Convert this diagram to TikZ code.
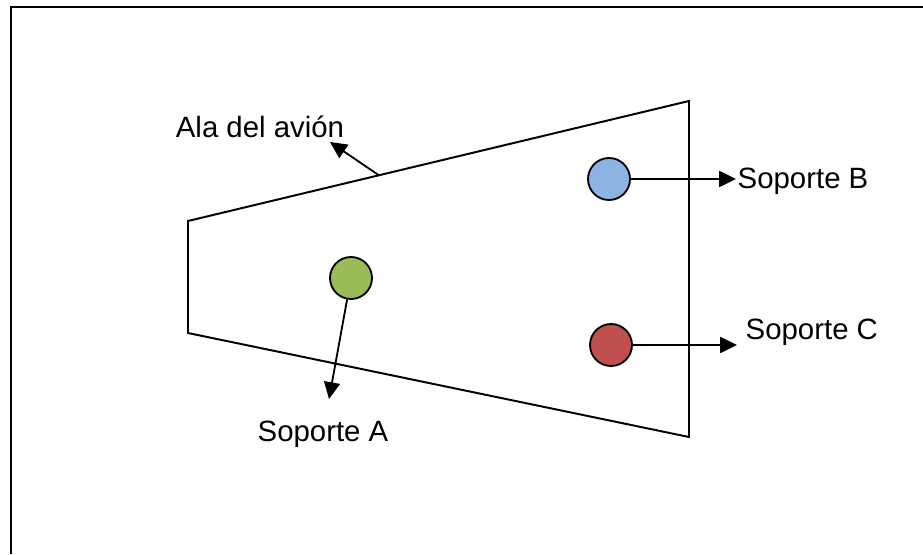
\documentclass[tikz,border=0pt]{standalone}
\usepackage{fontspec}
\setmainfont{Liberation Sans}
\usetikzlibrary{arrows.meta,positioning}
\definecolor{verdeA}{HTML}{9BBB59}
\definecolor{azulB}{HTML}{8DB3E2}
\definecolor{rojoC}{HTML}{C0504D}
\tikzset{
    soporte/.style={circle, draw, line width=1.3pt, minimum size=1.05cm, inner sep=0pt},
    etiqueta/.style={inner sep=1pt, font=\fontsize{20.9}{25}\selectfont},
    flecha/.style={line width=1.3pt, -{Triangle[length=0.42cm,width=0.4cm]}}
}

\begin{document}
\begin{tikzpicture}
    \useasboundingbox (0,0) rectangle (23.075,13.85);
    \draw[line width=1.8pt] (0.275,0) -- (0.275,13.675) -- (23.075,13.675);
    % ala del avion
    \coordinate (w1) at (4.7,8.325);
    \coordinate (w2) at (17.225,11.325);
    \coordinate (w3) at (17.225,2.925);
    \coordinate (w4) at (4.7,5.525);
    \draw[line width=1.4pt] (w1) -- (w2) -- (w3) -- (w4) -- cycle;
    \path (w1) -- (w2) coordinate[pos=0.381] (alaPt);
    \node[etiqueta] (ala) at (6.5,10.675) {Ala del avión};
    \coordinate (tipAla) at (8.25,10.3);
    \draw[flecha] (alaPt) -- (tipAla);
    % soportes
    \node[soporte, fill=verdeA] (sopA) at (8.775,6.9) {};
    \node[soporte, fill=azulB] (sopB) at (15.225,9.375) {};
    \node[soporte, fill=rojoC] (sopC) at (15.275,5.225) {};
    \coordinate (tipA) at (8.225,3.875);
    \coordinate (tipC) at (18.425,5.225);
    \node[etiqueta] (labA) at (8.075,3.0) {Soporte A};
    \node[etiqueta, anchor=west] (labB) at (18.4,9.325) {Soporte B};
    \node[etiqueta, anchor=west] (labC) at (18.6,5.55) {Soporte C};
    \draw[flecha] (sopA) -- (tipA);
    \draw[flecha] (sopB.east) -- (sopB.east -| labB.west);
    \draw[flecha] (sopC.east) -- (tipC);
\end{tikzpicture}
\end{document}
